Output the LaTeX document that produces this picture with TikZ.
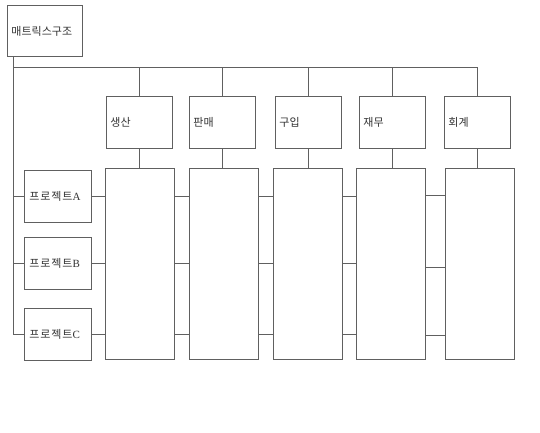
\documentclass[tikz,border=0pt]{standalone}
\usepackage{fontspec}
\setmainfont{Liberation Serif}
\newfontfamily\kr{Noto Sans CJK KR}
\newfontfamily\krw[LetterSpace=8]{Noto Sans CJK KR}
\definecolor{ln}{HTML}{606060}
\definecolor{tx}{HTML}{333333}
\tikzset{
  box/.style={draw=ln, line width=0.8pt, fill=white, anchor=north west, inner xsep=4pt, inner ysep=0pt, align=left, text=tx, font=\kr\fontsize{11}{12}\selectfont},
  fbox/.style={box, minimum width=66pt, text width=58pt, minimum height=52pt},
  pbox/.style={box, minimum width=66pt, text width=57pt, inner xsep=5pt, minimum height=52pt, font=\krw\fontsize{11}{12}\selectfont},
  cbox/.style={draw=ln, line width=0.8pt, anchor=north west, inner sep=0pt, minimum width=69pt, minimum height=191pt},
  conn/.style={draw=ln, line width=0.8pt}
}
\begin{document}
\begin{tikzpicture}[x=1pt,y=-1pt]
\useasboundingbox[fill=white] (0,0) rectangle (540,432);
% top box
\node[box, minimum width=75pt, text width=67pt, minimum height=51pt] (top) at (7,5) {매트릭스구조};
% function boxes
\node[fbox] (f1) at (106,96) {생산};
\node[fbox] (f2) at (189,96) {판매};
\node[fbox] (f3) at (275,96) {구입};
\node[fbox] (f4) at (359,96) {재무};
\node[fbox] (f5) at (444,96) {회계};
% columns
\node[cbox] (c1) at (105,168) {};
\node[cbox] (c2) at (189,168) {};
\node[cbox] (c3) at (273,168) {};
\node[cbox] (c4) at (356,168) {};
\node[cbox] (c5) at (445,168) {};
% project boxes
\node[pbox] (pA) at (24,170) {프로젝트{\rmfamily A}};
\node[pbox] (pB) at (24,237) {프로젝트{\rmfamily B}};
\node[pbox] (pC) at (24,308) {프로젝트{\rmfamily C}};
% bus
\coordinate (bl) at (13,67);
\coordinate (br) at (f5.north |- bl);
\draw[conn] (top.south -| bl) |- (pC.west);
\draw[conn] (bl) -- (br);
\draw[conn] (bl |- pA.west) -- (pA.west);
\draw[conn] (bl |- pB.west) -- (pB.west);
\foreach \i in {1,...,5}{
  \draw[conn] (f\i.north |- bl) -- (f\i.north);
  \draw[conn] (f\i.south) -- (f\i.south |- c\i.north);
}
% project to first column
\draw[conn] (pA.east) -- (pA.east -| c1.west);
\draw[conn] (pB.east) -- (pB.east -| c1.west);
\draw[conn] (pC.east) -- (pC.east -| c1.west);
% column to column
\foreach \a/\b in {1/2,2/3,3/4}{
  \draw[conn] (c\a.east |- pA.east) -- (c\b.west |- pA.east);
  \draw[conn] (c\a.east |- pB.east) -- (c\b.west |- pB.east);
  \draw[conn] (c\a.east |- pC.east) -- (c\b.west |- pC.east);
}
\coordinate (k1) at (0,195);
\coordinate (k2) at (0,267);
\coordinate (k3) at (0,335);
\draw[conn] (c4.east |- k1) -- (c5.west |- k1);
\draw[conn] (c4.east |- k2) -- (c5.west |- k2);
\draw[conn] (c4.east |- k3) -- (c5.west |- k3);
\end{tikzpicture}
\end{document}
